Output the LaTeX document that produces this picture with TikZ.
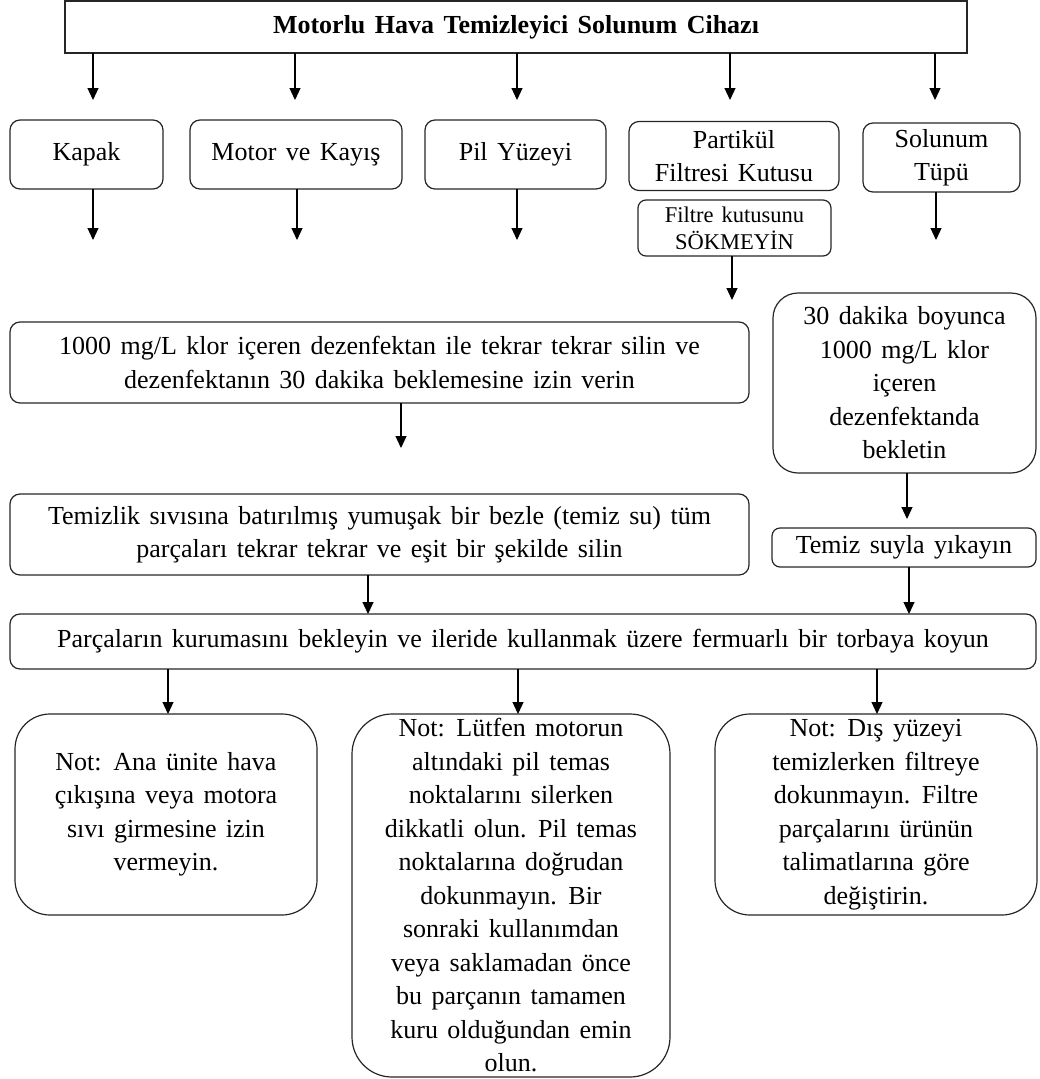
\documentclass[tikz,border=0pt]{standalone}
\usepackage{fontspec}
\setmainfont[WordSpace=1.45]{Liberation Serif}
\usetikzlibrary{arrows.meta}
\begin{document}
\begin{tikzpicture}[x=1pt,y=-1pt,
  every node/.style={inner sep=0pt,outer sep=0pt,align=center,text=black,
    font=\fontsize{26}{33.5}\selectfont},
  bx/.style={draw=black!85,line width=1.2pt,rounded corners=10pt},
  arr/.style={draw=black,line width=1.2pt,-{Triangle[length=12pt,width=11pt]}}]
\useasboundingbox (0,0) rectangle (1039,1079);
% title
\node[draw=black!85,line width=1.2pt,minimum width=902pt,minimum height=52pt] (title) at (516,27)
  {\bfseries Motorlu Hava Temizleyici Solunum Cihazı};
% row
\node[bx,minimum width=153pt,minimum height=69pt] (kapak) at (86.5,154.5) {Kapak};
\node[bx,minimum width=212pt,minimum height=69pt] (motor) at (296,154.5) {Motor ve Kayış};
\node[bx,minimum width=181pt,minimum height=69pt] (pil) at (515.5,154.5) {Pil Yüzeyi};
\node[bx,minimum width=210pt,minimum height=69pt] (partikul) at (734,156) {Partikül\\Filtresi Kutusu};
\node[bx,minimum width=157pt,minimum height=69pt] (solunum) at (941.5,157.5) {Solunum\\Tüpü};
\node[bx,rounded corners=8pt,minimum width=193pt,minimum height=56pt,
  font=\fontsize{22.5}{27}\selectfont] (filtre) at (734.5,228) {Filtre kutusunu\\SÖKMEYİN};
% middle
\node[bx,minimum width=739pt,minimum height=81pt] (dez) at (379.5,362.5)
  {1000 mg/L klor içeren dezenfektan ile tekrar tekrar silin ve\\dezenfektanın 30 dakika beklemesine izin verin};
\node[bx,rounded corners=25pt,minimum width=263pt,minimum height=180pt] (bekle) at (904.5,383)
  {30 dakika boyunca\\1000 mg/L klor\\içeren\\dezenfektanda\\bekletin};
\node[bx,minimum width=739pt,minimum height=81pt] (temizlik) at (379.5,534.5)
  {Temizlik sıvısına batırılmış yumuşak bir bezle (temiz su) tüm\\parçaları tekrar tekrar ve eşit bir şekilde silin};
\node[bx,rounded corners=8pt,minimum width=264pt,minimum height=39pt] (yika) at (904,547.5)
  {Temiz suyla yıkayın};
\node[bx,minimum width=1026pt,minimum height=55pt] (parca) at (523,641.5)
  {Parçaların kurumasını bekleyin ve ileride kullanmak üzere fermuarlı bir torbaya koyun};
% notes
\node[bx,rounded corners=35pt,minimum width=302pt,minimum height=201pt] (not1) at (166,814.5)
  {Not: Ana ünite hava\\çıkışına veya motora\\sıvı girmesine izin\\vermeyin.};
\node[bx,rounded corners=40pt,minimum width=318pt,minimum height=363pt] (not2) at (511,895.5)
  {Not: Lütfen motorun\\altındaki pil temas\\noktalarını silerken\\dikkatli olun. Pil temas\\noktalarına doğrudan\\dokunmayın. Bir\\sonraki kullanımdan\\veya saklamadan önce\\bu parçanın tamamen\\kuru olduğundan emin\\olun.};
\node[bx,rounded corners=35pt,minimum width=322pt,minimum height=201pt] (not3) at (876,814.5)
  {Not: Dış yüzeyi\\temizlerken filtreye\\dokunmayın. Filtre\\parçalarını ürünün\\talimatlarına göre\\değiştirin.};
% free arrow ends
\coordinate (t1) at (93,100);
\coordinate (t2) at (295,100);
\coordinate (t3) at (517,100);
\coordinate (t4) at (730,100);
\coordinate (t5) at (935,100);
\coordinate (r1) at (93,240);
\coordinate (r2) at (297,240);
\coordinate (r3) at (517,240);
\coordinate (r5) at (936,240);
\coordinate (f1) at (732,300);
\coordinate (d1) at (401,448);
% arrows
\foreach \c in {t1,t2,t3,t4,t5} \draw[arr] (title.south -| \c) -- (\c);
\draw[arr] (kapak.south -| r1) -- (r1);
\draw[arr] (motor.south -| r2) -- (r2);
\draw[arr] (pil.south -| r3) -- (r3);
\draw[arr] (solunum.south -| r5) -- (r5);
\draw[arr] (filtre.south -| f1) -- (f1);
\draw[arr] (dez.south -| d1) -- (d1);
\draw[arr] (temizlik.south -| 368,0) -- (parca.north -| 368,0);
\draw[arr,shorten >=9pt] (bekle.south -| 907,0) -- (yika.north -| 907,0);
\draw[arr] (yika.south -| 909,0) -- (parca.north -| 909,0);
\draw[arr] (parca.south -| 168,0) -- (not1.north -| 168,0);
\draw[arr] (parca.south -| 518,0) -- (not2.north -| 518,0);
\draw[arr] (parca.south -| 877,0) -- (not3.north -| 877,0);
\end{tikzpicture}
\end{document}
